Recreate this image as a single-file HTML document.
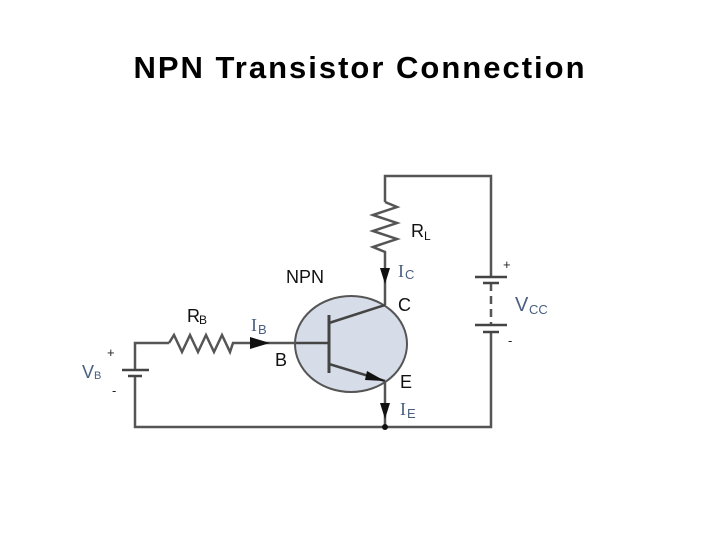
<!DOCTYPE html>
<html><head><style>
body{margin:0;background:#fff;width:720px;height:540px;overflow:hidden;position:relative;font-family:"Liberation Sans",sans-serif}
.t{position:absolute;top:50px;left:0;width:720px;text-align:center;font-weight:bold;font-size:31px;color:#000;letter-spacing:2px}
</style></head><body>
<div class="t">NPN Transistor Connection</div>
<svg width="720" height="540" style="position:absolute;left:0;top:0" font-family="Liberation Sans, sans-serif">
<g stroke="#555" stroke-width="2.5" fill="none">
<polyline points="385,202 385,176 491,176 491,277"/>
<line x1="491" y1="283" x2="491" y2="325" stroke-dasharray="8,5"/>
<polyline points="491,332 491,427 135,427 135,376"/>
<polyline points="135,370 135,343 169,343"/>
<polyline points="385,202 397,207 373,215 397,223 373,231 397,239 373,247 385,252 385,305"/>
<polyline points="169,343 174,335 182,352 190,335 198,352 206,335 214,352 222,335 230,352 233,343 329,343"/>
<line x1="385" y1="381" x2="385" y2="427"/>
</g>
<ellipse cx="351" cy="344" rx="56" ry="48" fill="#d6dde8" stroke="#555" stroke-width="2"/>
<g stroke="#444" stroke-width="2.5">
<line x1="296" y1="343" x2="329" y2="343"/>
<line x1="329" y1="315" x2="329" y2="373" stroke-width="3"/>
<line x1="329" y1="323" x2="385" y2="305"/>
<line x1="329" y1="364" x2="385" y2="381"/>
<line x1="475" y1="277" x2="507" y2="277"/>
<line x1="483" y1="283" x2="499" y2="283"/>
<line x1="475" y1="325" x2="507" y2="325"/>
<line x1="483" y1="332" x2="499" y2="332"/>
<line x1="122" y1="370" x2="149" y2="370"/>
<line x1="128" y1="376" x2="142" y2="376"/>
</g>
<g fill="#111">
<polygon points="380,268 390,268 385,284"/>
<polygon points="380,403 390,403 385,419"/>
<polygon points="250,337 250,349 270,343"/>
<polygon points="367,371 385,381 365,380"/>
<circle cx="385" cy="427" r="3"/>
</g>
<g font-size="18" fill="#111">
<text x="411" y="237">R</text><text x="424" y="240" font-size="12">L</text>
<text x="286" y="283">NPN</text>
<text x="187" y="322">R</text><text x="199" y="324" font-size="12">B</text>
<text x="398" y="311">C</text>
<text x="275" y="366">B</text>
<text x="400" y="388">E</text>
</g>
<g fill="#4a5f80" font-size="18">
<text x="398" y="277" font-family="Liberation Serif, serif">I</text><text x="405" y="279" font-size="13">C</text>
<text x="251" y="331" font-family="Liberation Serif, serif">I</text><text x="258" y="334" font-size="13">B</text>
<text x="400" y="415" font-family="Liberation Serif, serif">I</text><text x="407" y="418" font-size="13">E</text>
<text x="515" y="311" font-size="20">V</text><text x="529" y="314" font-size="13">CC</text>
<text x="82" y="378">V</text><text x="94" y="379" font-size="11">B</text>
</g>
<g fill="#222" font-size="13">
<text x="503" y="269">+</text><text x="508" y="345">-</text>
<text x="107" y="357">+</text><text x="112" y="395">-</text>
</g>
</svg>
</body></html>
